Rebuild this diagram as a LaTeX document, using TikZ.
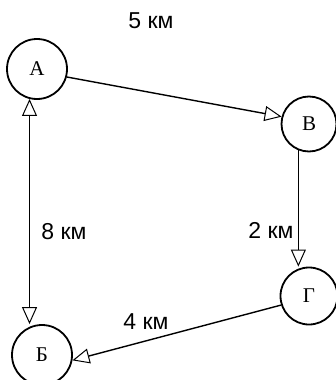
\documentclass[tikz,border=0pt]{standalone}
\usepackage{fontspec}
\setmainfont{Liberation Serif}
\newfontfamily\labfont{Liberation Sans}
\usetikzlibrary{arrows.meta}
\begin{document}
\begin{tikzpicture}[x=1pt,y=-1pt,
  city/.style={circle, draw, line width=1.8pt, minimum size=57pt, inner sep=0pt,
    font=\fontsize{21}{21}\selectfont},
  road/.style={line width=1.4pt, -{Triangle[fill=white, length=17pt, width=15pt, line width=1pt]}},
  dist/.style={font=\labfont\fontsize{23}{23}\selectfont, inner sep=0pt}]
\useasboundingbox (0,0) rectangle (336,380);
\node[city, minimum size=60pt] (a) at (37,69) {А};
\node[city, minimum size=55pt] (v) at (309,124) {В};
\node[city] (g) at (309,296) {Г};
\node[city, minimum size=60pt] (b) at (42,355) {Б};
\draw[road] (a.-15) -- (v.165);
\draw[road] (v.248) -- (v.248 |- g.north);
\draw[road] (g.198) -- (b.350);
\draw[road, {Triangle[fill=white, length=17pt, width=15pt, line width=1pt]}-{Triangle[fill=white, length=17pt, width=15pt, line width=1pt]}]
  (a.256) -- (a.256 |- b.north);
\node[dist] (l5) at (151,21) {5 км};
\node[dist] (l8) at (64,232) {8 км};
\node[dist] (l2) at (271,230) {2 км};
\node[dist] (l4) at (146,322) {4 км};
\end{tikzpicture}
\end{document}
